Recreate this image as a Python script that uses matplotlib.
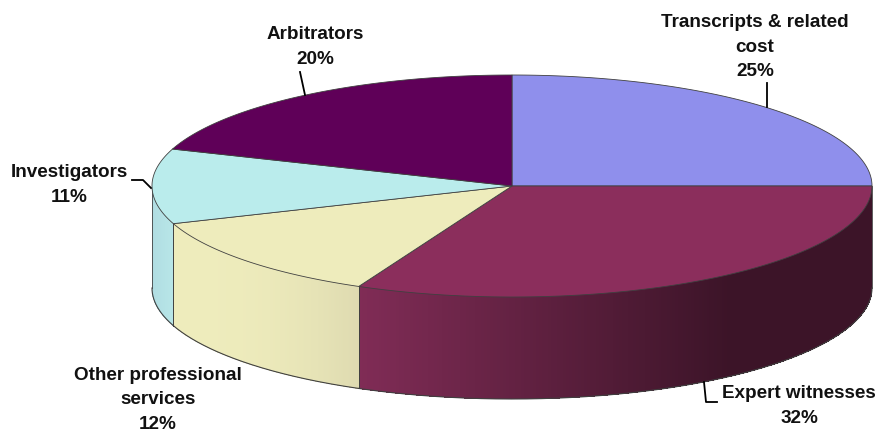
import numpy as np
import matplotlib
matplotlib.use("Agg")
import matplotlib.pyplot as plt
from matplotlib.colors import to_rgb

labels = ["Transcripts & related\ncost\n25%", "Expert witnesses\n32%",
          "Other professional\nservices\n12%", "Investigators\n11%", "Arbitrators\n20%"]
values = [25, 32, 12.49, 10.91, 19.6]
top_colors = ["#8F8FEC", "#8B2E5C", "#EEECBC", "#BAECEC", "#5F0058"]
side_left = ["#8F8FEC", "#802C56", "#EEECBC", "#B0DDE2", "#5F0058"]
side_right = ["#8F8FEC", "#3C1428", "#DEDAB0", "#B8E6E8", "#5F0058"]
gradient_power = [1, 1, 2.5, 1, 1]
gradient_span = [1, 0.72, 1, 1, 1]
label_xy = [(755, 47), (799, 406), (158, 400), (69, 185), (315, 47)]
leaders = [[(767, 83), (767, 107)], [(704, 382), (706, 402), (717, 402)],
           [], [(132, 180), (143, 180), (151, 188)], [(300, 72), (305, 95)]]

W, H = 878, 437
CX, CY, RX, RY, DEPTH = 512, 186, 360, 111, 102
EDGE = "#404040"

fig = plt.figure(figsize=(W / 100, H / 100), dpi=100)
ax = fig.add_axes([0, 0, 1, 1])
ax.set_xlim(0, W)
ax.set_ylim(H, 0)
ax.axis("off")


def pt(theta):
    return CX + RX * np.sin(theta), CY - RY * np.cos(theta)


edges = np.concatenate([[0], np.cumsum(values)]) / np.sum(values) * 2 * np.pi

# side wall
for i in range(len(values)):
    a, b = max(edges[i], np.pi / 2), min(edges[i + 1], 3 * np.pi / 2)
    if b <= a:
        continue
    ts = np.linspace(a, b, 240)
    xa, xb = pt(ts)[0].min(), pt(ts)[0].max()
    c0, c1 = np.array(to_rgb(side_left[i])), np.array(to_rgb(side_right[i]))
    for t0, t1 in zip(ts[:-1], ts[1:]):
        x0, y0 = pt(t0)
        x1, y1 = pt(t1)
        f = ((x0 + x1) / 2 - xa) / (xb - xa)
        f = min(f / gradient_span[i], 1) ** gradient_power[i]
        col = c0 + (c1 - c0) * f
        ax.fill([x0, x1, x1, x0], [y0, y1, y1 + DEPTH, y0 + DEPTH],
                color=col, lw=0, antialiased=False, zorder=1)
    x, y = pt(ts)
    ax.plot(x, y + DEPTH, color=EDGE, lw=0.8, zorder=2)
    for t in (a, b):
        xe, ye = pt(t)
        ax.plot([xe, xe], [ye, ye + DEPTH], color=EDGE, lw=0.6, zorder=2)

# top face
for i in range(len(values)):
    ts = np.linspace(edges[i], edges[i + 1], 200)
    x, y = pt(ts)
    ax.fill(np.r_[CX, x], np.r_[CY, y], facecolor=top_colors[i],
            edgecolor=EDGE, lw=0.6, zorder=3)

for line in leaders:
    if line:
        xs, ys = zip(*line)
        ax.plot(xs, ys, color="black", lw=1.3, zorder=4)

for lab, (x, y) in zip(labels, label_xy):
    ax.text(x, y, lab, ha="center", va="center", fontsize=13.6, fontweight="bold",
            family="Liberation Sans", color="#111111", linespacing=1.58, zorder=5)

fig.savefig("out.png", dpi=100, facecolor="white")
